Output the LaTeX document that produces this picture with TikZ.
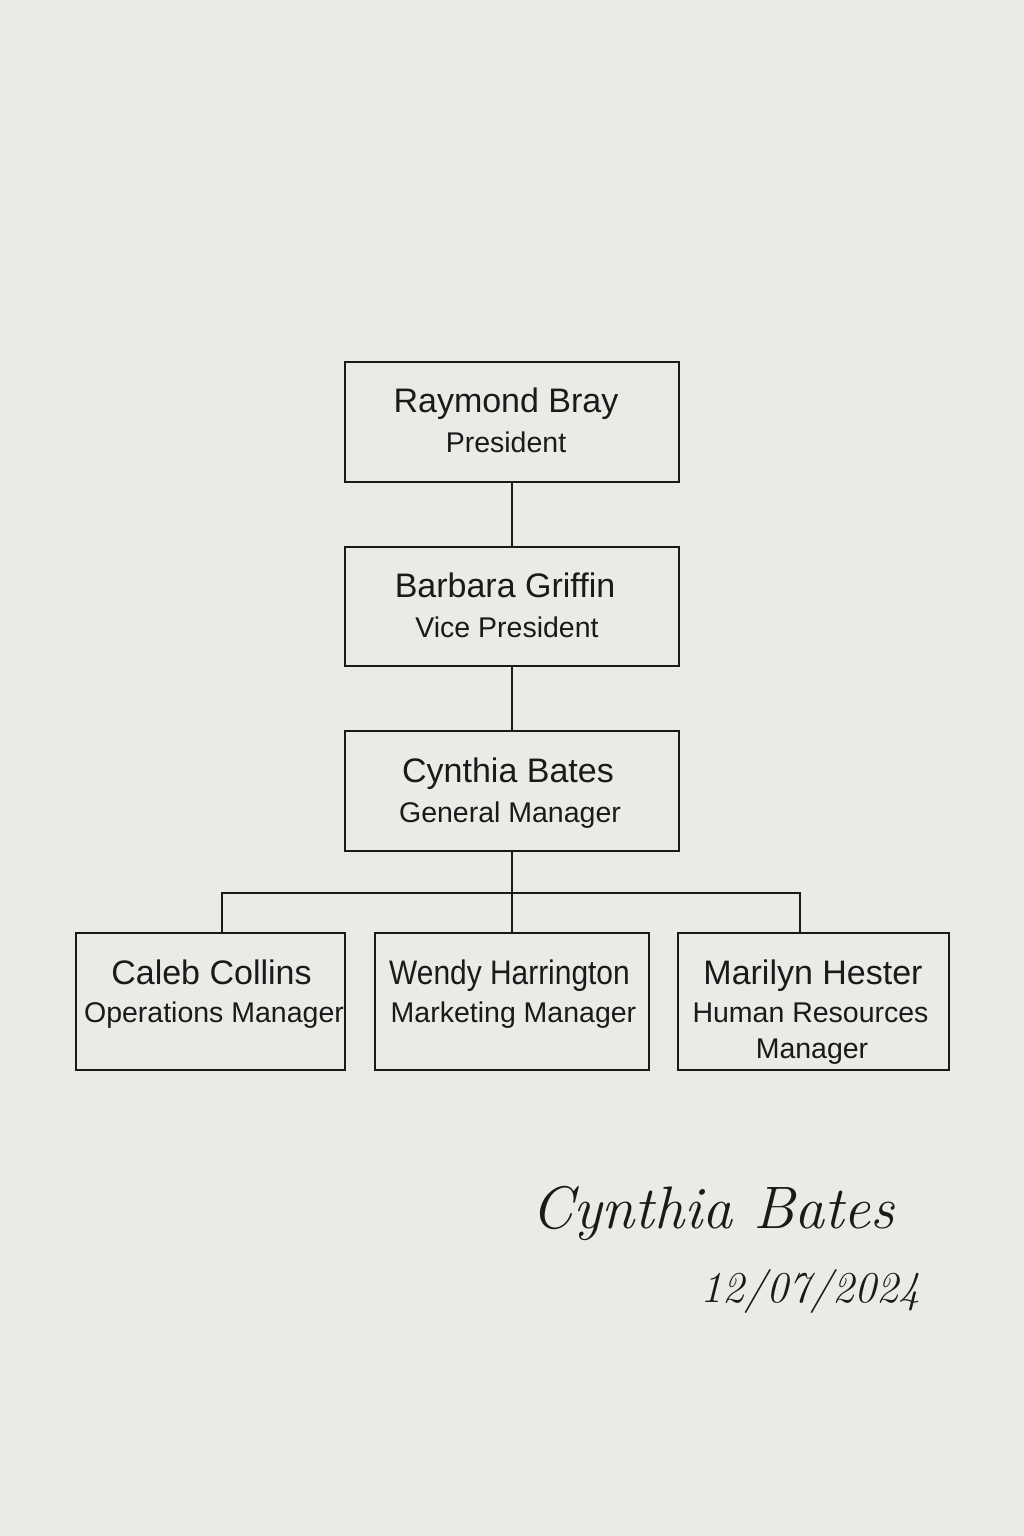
\documentclass[tikz,border=0pt]{standalone}
\usepackage{fontspec}
\setmainfont{Liberation Sans}
\newfontfamily\sigfont{Latin Modern Roman}
\definecolor{paper}{HTML}{ECEAE7}
\definecolor{ink}{HTML}{1A1A1A}
\tikzset{
  orgbox/.style={draw=ink, line width=2pt, rectangle, inner sep=0pt},
  namet/.style={anchor=base, inner sep=0pt, text=ink, font=\fontsize{34}{40}\selectfont},
  titlet/.style={anchor=base, inner sep=0pt, text=ink, font=\fontsize{28.5}{34}\selectfont},
  link/.style={draw=ink, line width=2pt},
  sigt/.style={anchor=base west, inner sep=0pt, text=ink}
}
\begin{document}
\begin{tikzpicture}[x=1pt, y=-1pt]
\fill[paper] (0,0) rectangle (1024,1536);
\useasboundingbox (0,0) rectangle (1024,1536);
% boxes
\node[orgbox, minimum width=334pt, minimum height=120pt] (b1) at (512,422) {};
\node[orgbox, minimum width=334pt, minimum height=119pt] (b2) at (512,606.5) {};
\node[orgbox, minimum width=334pt, minimum height=120pt] (b3) at (512,791) {};
\node[orgbox, minimum width=269pt, minimum height=137pt] (c1) at (210.5,1001.5) {};
\node[orgbox, minimum width=274pt, minimum height=137pt] (c2) at (512,1001.5) {};
\node[orgbox, minimum width=271pt, minimum height=137pt] (c3) at (813.5,1001.5) {};
% texts
\node[namet] (t1a) at (506,412) {Raymond Bray};
\node[titlet] (t1b) at (506,452) {President};
\node[namet] (t2a) at (505,597) {Barbara Griffin};
\node[titlet] (t2b) at (507,637) {Vice President};
\node[namet] (t3a) at (508,782) {Cynthia Bates};
\node[titlet] (t3b) at (510,822) {General Manager};
\node[namet] (t4a) at (211.5,984) {Caleb Collins};
\node[titlet] (t4b) at (214,1022) {Operations Manager};
\node[namet, xscale=0.88, transform shape] (t5a) at (509.5,984) {Wendy Harrington};
\node[titlet] (t5b) at (513.5,1022) {Marketing Manager};
\node[namet] (t6a) at (813,984) {Marilyn Hester};
\node[titlet] (t6b) at (810.5,1022) {Human Resources};
\node[titlet] (t6c) at (812,1058) {Manager};
% connectors
\coordinate (bus) at (512,893);
\coordinate (c1top) at (222,933);
\coordinate (c3top) at (800,933);
\draw[link] (b1.south) -- (b2.north);
\draw[link] (b2.south) -- (b3.north);
\draw[link] (b3.south) -- (bus);
\draw[link] (bus) -- (c2.north);
\draw[link] (c1top) -- (c1top |- bus) -- (c3top |- bus) -- (c3top);
% signature
\node[sigt] (sig) at (531,1228) {\sigfont\itshape\fontsize{60}{66}\selectfont Cynthia Bates};
\node[sigt] (date) at (700,1302) {\sigfont\itshape\fontsize{44}{50}\selectfont 12/07/2024};
\end{tikzpicture}
\end{document}
